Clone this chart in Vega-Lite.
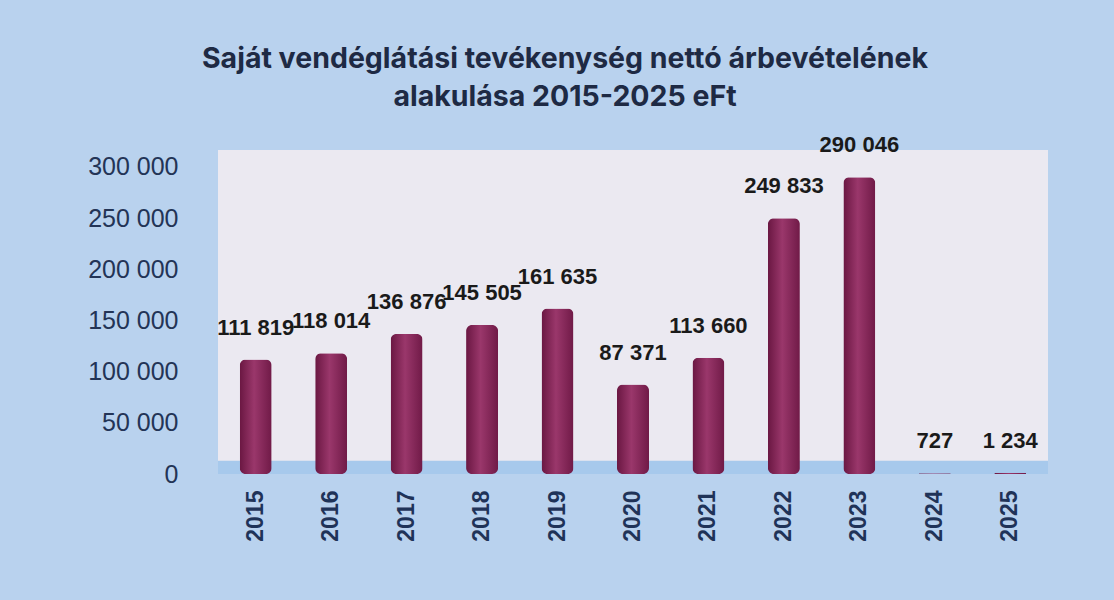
{
  "$schema": "https://vega.github.io/schema/vega-lite/v6.json",
  "width": 830,
  "height": 324,
  "autosize": "none",
  "padding": {"left": 218, "top": 150, "right": 66, "bottom": 126},
  "background": "#b9d2ee",
  "title": {
    "text": ["Saját vendéglátási tevékenység nettó árbevételének", "alakulása 2015-2025 eFt"],
    "anchor": "middle",
    "frame": "group",
    "dx": -68,
    "font": "Inter",
    "fontSize": 28.5,
    "fontWeight": 700,
    "lineHeight": 38,
    "color": "#1e2a44",
    "offset": 23
  },
  "config": {
    "locale": {"number": {"decimal": ",", "thousands": " ", "grouping": [3], "currency": ["", " Ft"]}},
    "view": {"fill": "#ebe9f1", "stroke": null}
  },
  "data": {
    "values": [
      {"ev": "2015", "ertek": 111819},
      {"ev": "2016", "ertek": 118014},
      {"ev": "2017", "ertek": 136876},
      {"ev": "2018", "ertek": 145505},
      {"ev": "2019", "ertek": 161635},
      {"ev": "2020", "ertek": 87371},
      {"ev": "2021", "ertek": 113660},
      {"ev": "2022", "ertek": 249833},
      {"ev": "2023", "ertek": 290046},
      {"ev": "2024", "ertek": 727},
      {"ev": "2025", "ertek": 1234}
    ]
  },
  "encoding": {
    "x": {
      "field": "ev",
      "type": "nominal",
      "title": null,
      "scale": {"paddingInner": 0.2, "paddingOuter": 0.1},
      "axis": {
        "labelAngle": -90,
        "labelFont": "Liberation Sans",
        "labelFontSize": 23,
        "labelFontWeight": "bold",
        "labelColor": "#1f3358",
        "labelPadding": 16,
        "ticks": false,
        "domain": false
      }
    },
    "y": {
      "field": "ertek",
      "type": "quantitative",
      "title": null,
      "scale": {"domain": [0, 316600], "nice": false},
      "axis": {
        "values": [0, 50000, 100000, 150000, 200000, 250000, 300000],
        "format": ",.0f",
        "labelFont": "Liberation Sans",
        "labelFontSize": 25,
        "labelColor": "#233456",
        "labelPadding": 40,
        "ticks": false,
        "domain": false,
        "grid": false
      }
    }
  },
  "layer": [
    {
      "data": {"values": [{"a": 0, "b": 13000}]},
      "mark": {"type": "rect", "color": "#a7c9ec"},
      "encoding": {
        "x": null,
        "y": {"field": "a", "type": "quantitative"},
        "y2": {"field": "b"}
      }
    },
    {
      "mark": {
        "type": "bar",
        "size": 32,
        "cornerRadius": 6,
        "fill": {
          "gradient": "linear",
          "x1": 0, "y1": 0, "x2": 1, "y2": 0,
          "stops": [
            {"offset": 0, "color": "#6a1742"},
            {"offset": 0.45, "color": "#9a376b"},
            {"offset": 1, "color": "#701a47"}
          ]
        }
      }
    },
    {
      "mark": {
        "type": "text",
        "baseline": "bottom",
        "dy": -20,
        "font": "Liberation Sans",
        "fontSize": 22,
        "fontWeight": "bold",
        "color": "#1a1a1a"
      },
      "encoding": {
        "text": {"field": "ertek", "type": "quantitative", "format": ",.0f"}
      }
    }
  ]
}
